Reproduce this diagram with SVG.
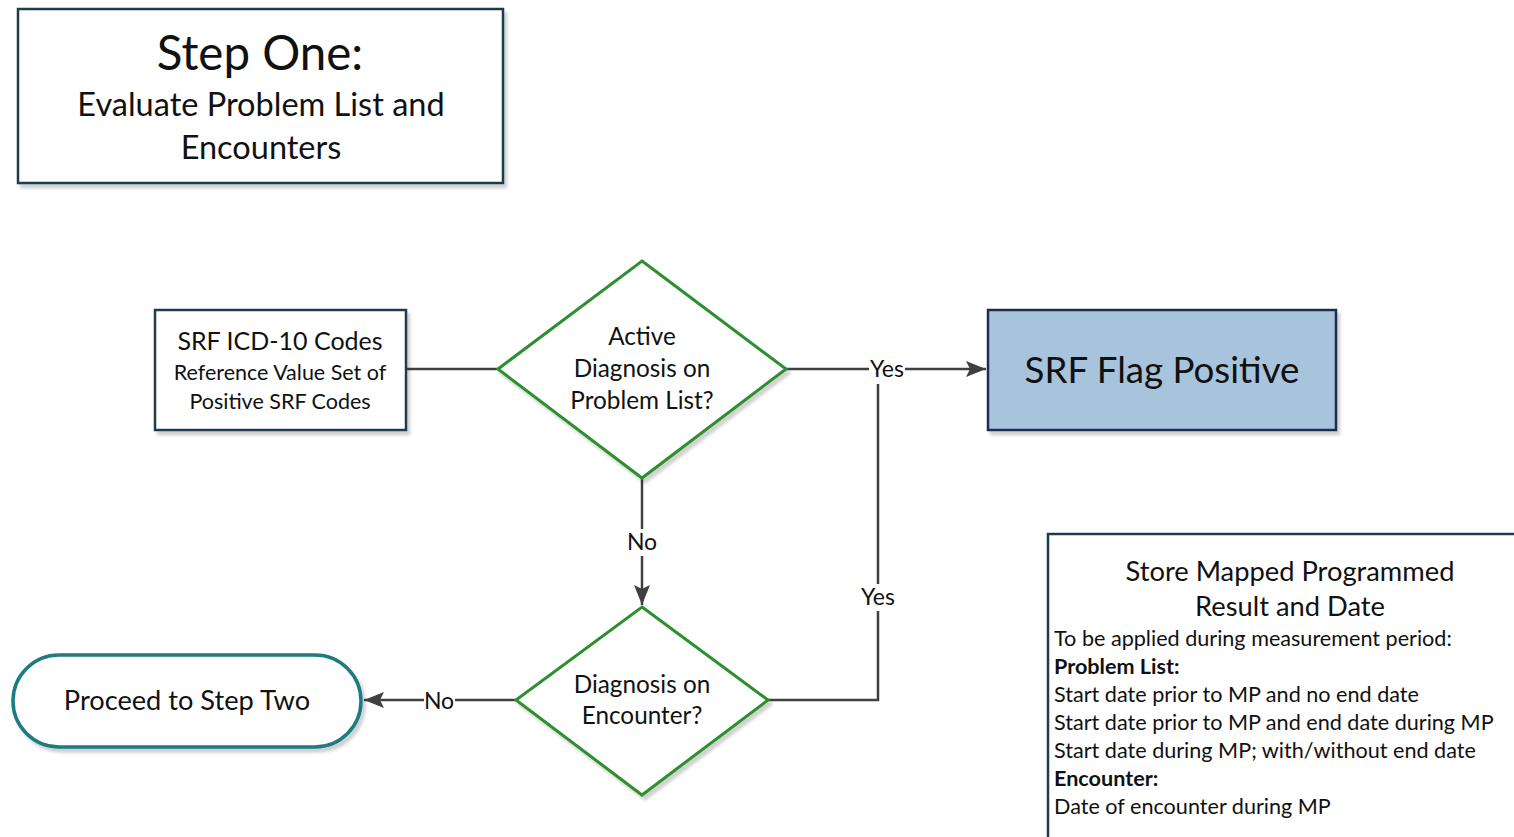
<svg xmlns="http://www.w3.org/2000/svg" width="1514" height="837" viewBox="0 0 1514 837">
<defs>
<filter id="sh" x="-10%" y="-10%" width="130%" height="130%">
<feDropShadow dx="3" dy="4" stdDeviation="1.5" flood-color="#000" flood-opacity="0.18"/>
</filter>
<marker id="ah" viewBox="0 0 20 16" refX="20" refY="8" markerWidth="20" markerHeight="16" markerUnits="userSpaceOnUse" orient="auto">
<path d="M0,0 L20,8 L0,16 L4,8 z" fill="#404040"/>
</marker>
</defs>
<style>
text{font-family:Lato,"Open Sans",sans-serif;fill:#111;}
.c{text-anchor:middle;}
.box{fill:#fff;stroke:#1e3e4e;stroke-width:2.5;}
.dia{fill:#fff;stroke:#2f8f2f;stroke-width:3;}
.ln{fill:none;stroke:#404040;stroke-width:2.5;}
.lbl{font-size:23px;text-anchor:middle;}
.bg{fill:#fff;}
</style>
<rect width="1514" height="837" fill="#fff"/>
<g id="connectors">
<line class="ln" x1="406" y1="369" x2="498" y2="369"/>
<line class="ln" x1="786" y1="369" x2="986" y2="369" marker-end="url(#ah)"/>
<polyline class="ln" points="768,700 878,700 878,384"/>
<line class="ln" x1="642" y1="478" x2="642" y2="605" marker-end="url(#ah)"/>
<line class="ln" x1="516" y1="700" x2="364" y2="700" marker-end="url(#ah)"/>
<rect class="bg" x="869" y="356" width="36" height="27"/>
<text class="lbl" x="887" y="377">Yes</text>
<rect class="bg" x="859" y="584" width="38" height="27"/>
<text class="lbl" x="878" y="605">Yes</text>
<rect class="bg" x="626" y="529" width="32" height="27"/>
<text class="lbl" x="642" y="550">No</text>
<rect class="bg" x="424" y="688" width="31" height="26"/>
<text class="lbl" x="439" y="709">No</text>
</g>
<g id="step-one">
<rect class="box" x="18" y="9" width="485" height="174" filter="url(#sh)"/>
<text class="c" x="260" y="70" font-size="47.5">Step One:</text>
<text class="c" x="261" y="116" font-size="32.5">Evaluate Problem List and</text>
<text class="c" x="261" y="159" font-size="32.5">Encounters</text>
</g>
<g id="srf-codes">
<rect class="box" x="155" y="310" width="251" height="120" filter="url(#sh)"/>
<text class="c" x="280" y="350" font-size="25">SRF ICD-10 Codes</text>
<text class="c" x="280" y="380" font-size="21.5">Reference Value Set of</text>
<text class="c" x="280" y="409" font-size="21.5">Positive SRF Codes</text>
</g>
<g id="active-diagnosis">
<polygon class="dia" points="642,261 786,369 642,478 498,369" filter="url(#sh)"/>
<text class="c" x="642" y="345" font-size="24.3">Active</text>
<text class="c" x="642" y="377" font-size="24.3">Diagnosis on</text>
<text class="c" x="642" y="409" font-size="24.3">Problem List?</text>
</g>
<g id="srf-flag">
<rect x="988" y="310" width="348" height="120" fill="#a8c3dc" stroke="#1f2f50" stroke-width="2.5" filter="url(#sh)"/>
<text class="c" x="1162" y="383" font-size="36.7">SRF Flag Positive</text>
</g>
<g id="encounter-diagnosis">
<polygon class="dia" points="642,607 768,700 642,795 516,700" filter="url(#sh)"/>
<text class="c" x="642" y="693" font-size="24.3">Diagnosis on</text>
<text class="c" x="642" y="724" font-size="24.3">Encounter?</text>
</g>
<g id="step-two">
<rect x="13" y="655" width="348" height="92" rx="46" ry="46" fill="#fff" stroke="#1e7b80" stroke-width="3.5" filter="url(#sh)"/>
<text class="c" x="187" y="710" font-size="27.2">Proceed to Step Two</text>
</g>
<g id="store-result">
<rect class="box" x="1048" y="534" width="480" height="320" filter="url(#sh)"/>
<text class="c" x="1290" y="581" font-size="27.3">Store Mapped Programmed</text>
<text class="c" x="1290" y="616" font-size="27.3">Result and Date</text>
<text x="1054" y="646" font-size="21.6">To be applied during measurement period:</text>
<text x="1054" y="674" font-size="21.6" font-weight="bold">Problem List:</text>
<text x="1054" y="702" font-size="21.6">Start date prior to MP and no end date</text>
<text x="1054" y="730" font-size="21.6">Start date prior to MP and end date during MP</text>
<text x="1054" y="758" font-size="21.6">Start date during MP; with/without end date</text>
<text x="1054" y="786" font-size="21.6" font-weight="bold">Encounter:</text>
<text x="1054" y="814" font-size="21.6">Date of encounter during MP</text>
</g>
</svg>
